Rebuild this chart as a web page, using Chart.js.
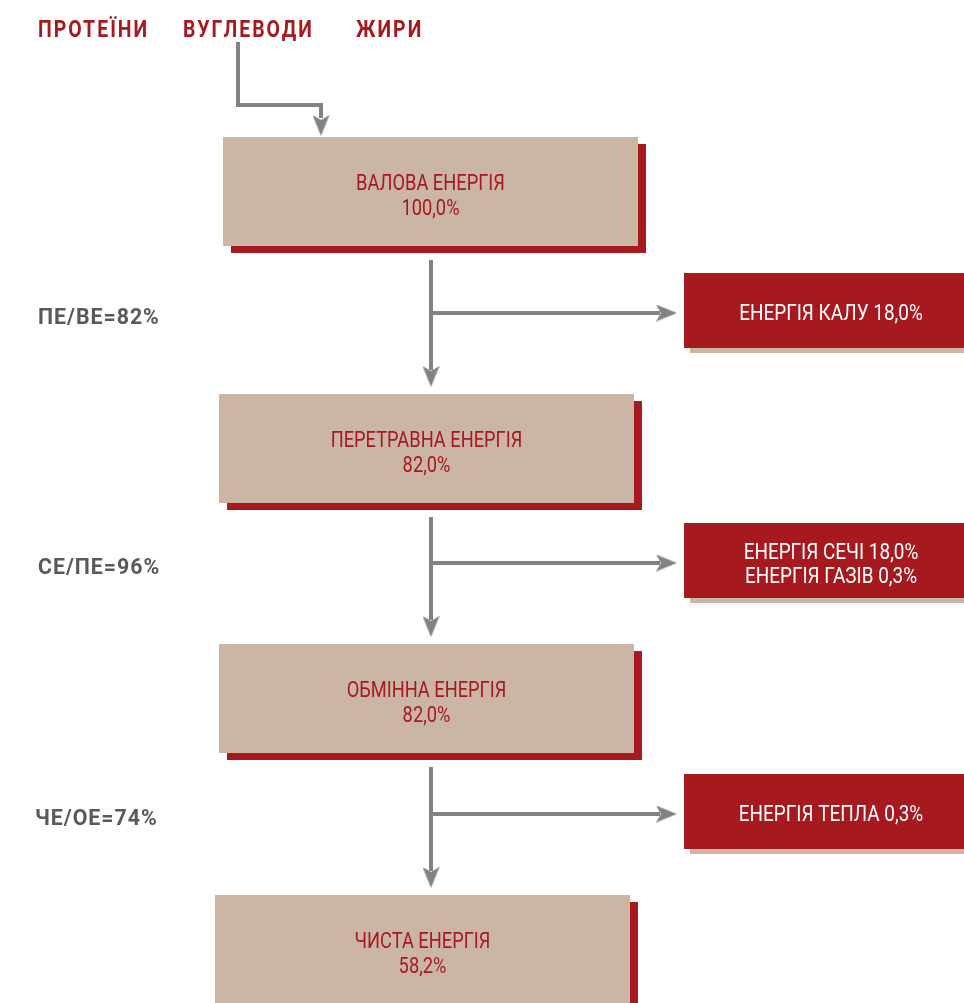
<!DOCTYPE html>
<html>
<head>
<meta charset="utf-8">
<script src="https://cdn.jsdelivr.net/npm/chart.js@4.4.1/dist/chart.umd.min.js"></script>
<style>
  html, body { margin: 0; padding: 0; background: #fff; }
  canvas { display: block; }
</style>
</head>
<body>
<canvas id="flow" width="964" height="1003"></canvas>
<script>
// data
const inputs = ['ПРОТЕЇНИ', 'ВУГЛЕВОДИ', 'ЖИРИ'];
const stages = ['ВАЛОВА ЕНЕРГІЯ', 'ПЕРЕТРАВНА ЕНЕРГІЯ', 'ОБМІННА ЕНЕРГІЯ', 'ЧИСТА ЕНЕРГІЯ'];
const stageShares = [100.0, 82.0, 82.0, 58.2];
const losses = [['ЕНЕРГІЯ КАЛУ'], ['ЕНЕРГІЯ СЕЧІ', 'ЕНЕРГІЯ ГАЗІВ'], ['ЕНЕРГІЯ ТЕПЛА']];
const lossShares = [[18.0], [18.0, 0.3], [0.3]];
const ratioNames = ['ПЕ/ВЕ', 'СЕ/ПЕ', 'ЧЕ/ОЕ'];
const ratioValues = [82, 96, 74];

// layout, in canvas units (scales run 0..964 and 0..1003)
const W = 964, H = 1003;
const inputX = [38, 183, 356];
const boxLeft = [223, 219, 219, 215];
const boxTop = [137, 394, 644, 895];
const boxW = 415, boxH = 109;
const lossLeft = 684, lossTop = [273, 523, 774], lossH = 75, lossTextX = 831;
const mainX = 431;
const ratioX = [38, 38, 35];
const headLen = 21;

const red = '#a6191e', beige = '#cbb6a6', grey = '#808285', darkGrey = '#58595b';
const family = 'Roboto, "Noto Sans", sans-serif';

let pct = (v) => v.toFixed(1).replace('.', ',') + '%';

// arrow head drawn once, used as point style
let arrowImg = document.createElement('canvas');
arrowImg.width = 17;
arrowImg.height = headLen;
let actx = arrowImg.getContext('2d');
actx.fillStyle = grey;
actx.beginPath();
actx.moveTo(8.5, 0);
actx.lineTo(17, headLen);
actx.lineTo(8.5, headLen - 5);
actx.lineTo(0, headLen);
actx.closePath();
actx.fill();

function rect(x0, x1, y0, y1, color) {
  return {
    data: [{x: x0, y: y0}, {x: x1, y: y0}],
    fill: {target: {value: y1}},
    backgroundColor: color,
    borderColor: 'rgba(0,0,0,0)',
    borderWidth: 0,
    pointRadius: 0
  };
}

function path(points) {
  return {
    data: points.map(p => ({x: p[0], y: p[1]})),
    borderColor: grey,
    borderWidth: 4,
    borderCapStyle: 'butt',
    borderJoinStyle: 'miter',
    pointRadius: 0,
    fill: false
  };
}

// tip = point of the arrow, rot: 180 down, 90 right
function head(tx, ty, rot) {
  let d = headLen / 2;
  let cx = rot === 90 ? tx - d : tx;
  let cy = rot === 180 ? ty - d : ty;
  return {
    data: [{x: cx, y: cy}],
    showLine: false,
    pointStyle: arrowImg,
    rotation: rot,
    pointRadius: 10,
    fill: false
  };
}

let paint = [];

// input arrow
paint.push(path([[238, 42], [238, 105], [321, 105], [321, boxTop[0] - 2 - headLen + 4]]));
paint.push(head(321, boxTop[0] - 1, 180));

stages.forEach((s, i) => {
  let x0 = boxLeft[i], y0 = boxTop[i];
  paint.push(rect(x0 + 8, x0 + boxW + 8, y0 + 7, Math.min(y0 + boxH + 7, H), red));
  paint.push(rect(x0, x0 + boxW, y0, Math.min(y0 + boxH, H), beige));
});

losses.forEach((l, i) => {
  let y0 = lossTop[i];
  let tip = boxTop[i + 1] - 7;
  let by = y0 + 40;
  paint.push(path([[mainX, boxTop[i] + boxH + 14], [mainX, tip - headLen + 4]]));
  paint.push(head(mainX, tip, 180));
  paint.push(path([[mainX, by], [lossLeft - 7 - headLen + 4, by]]));
  paint.push(head(lossLeft - 7, by, 90));
  paint.push(rect(lossLeft + 6, W + 5, y0 + 6, y0 + lossH + 5, beige));
  paint.push(rect(lossLeft, W + 5, y0, y0 + lossH, red));
});

// first dataset is drawn on top, so flip the paint order
let datasets = paint.reverse();

function txt(ctx, s, px, py, size, weight, color, align, sx, spacing) {
  ctx.save();
  ctx.font = weight + ' ' + size + 'px ' + family;
  ctx.fillStyle = color;
  ctx.textAlign = align;
  ctx.textBaseline = 'alphabetic';
  if ('letterSpacing' in ctx) ctx.letterSpacing = spacing + 'px';
  ctx.translate(px, py + size * 0.356);
  ctx.scale(sx, 1);
  ctx.fillText(s, 0, 0);
  ctx.restore();
}

const flowText = {
  id: 'flowText',
  afterDatasetsDraw(chart) {
    const {ctx, scales: {x, y}} = chart;
    inputs.forEach((s, i) => {
      txt(ctx, s, x.getPixelForValue(inputX[i]), y.getPixelForValue(28), 24, 'bold', red, 'left', 0.81, 2.5);
    });
    stages.forEach((s, i) => {
      let cx = x.getPixelForValue(boxLeft[i] + boxW / 2);
      txt(ctx, s, cx, y.getPixelForValue(boxTop[i] + 45), 22, 'normal', red, 'center', 0.83, 0);
      txt(ctx, pct(stageShares[i]), cx, y.getPixelForValue(boxTop[i] + 70), 22, 'normal', red, 'center', 0.83, 0);
    });
    losses.forEach((l, i) => {
      let cx = x.getPixelForValue(lossTextX);
      let y0 = lossTop[i];
      let rows = l.map((name, j) => name + ' ' + pct(lossShares[i][j]));
      let start = rows.length === 1 ? y0 + 39 : y0 + 28;
      rows.forEach((r, j) => {
        txt(ctx, r, cx, y.getPixelForValue(start + j * 24), 22, 'normal', '#ffffff', 'center', 0.86, 0);
      });
      txt(ctx, ratioNames[i] + '=' + ratioValues[i] + '%', x.getPixelForValue(ratioX[i]),
        y.getPixelForValue(y0 + 43), 22, 'bold', darkGrey, 'left', 0.97, 1);
    });
  }
};

new Chart(document.getElementById('flow'), {
  type: 'line',
  data: {datasets: datasets},
  options: {
    responsive: false,
    animation: false,
    events: [],
    layout: {padding: 0, autoPadding: false},
    plugins: {legend: {display: false}, tooltip: {enabled: false}},
    scales: {
      x: {type: 'linear', min: 0, max: W, display: false},
      y: {type: 'linear', min: 0, max: H, reverse: true, display: false}
    }
  },
  plugins: [flowText]
});
</script>
</body>
</html>
